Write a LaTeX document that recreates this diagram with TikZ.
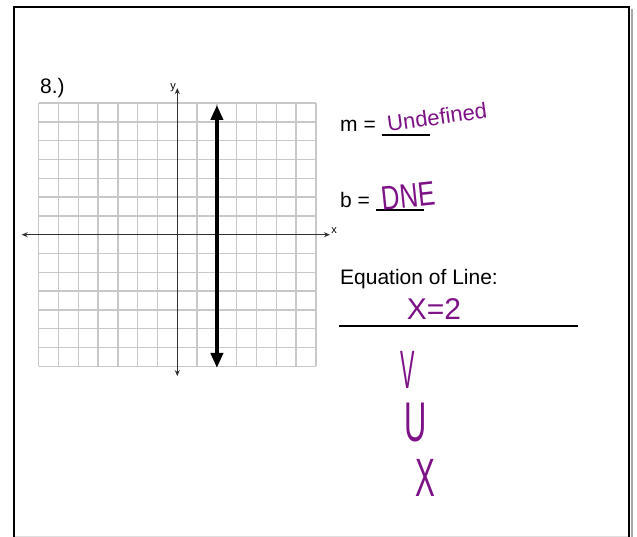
\documentclass[tikz,border=0pt]{standalone}
\usepackage{fontspec}
\setmainfont{Liberation Sans}
\usetikzlibrary{arrows.meta}
\definecolor{ink}{RGB}{125,18,135}
\definecolor{gridgray}{RGB}{200,200,200}
\definecolor{axisgray}{RGB}{50,50,50}

\begin{document}
\begin{tikzpicture}[x=1pt, y=-1pt, >={Stealth[length=6pt,width=5pt]}]
    % 画像と同じ大きさ (637 x 537)
    \useasboundingbox (0,0) rectangle (637,537);

    % 手書き文字のスタイル
    \tikzset{
        hand/.style={text=ink, inner sep=0pt},
        printed/.style={font=\fontsize{21}{21}\selectfont, inner sep=0pt, anchor=base west}
    }

    % 枠 (右に影)
    \draw[gray!70, line width=2pt] (631.5,9) -- (631.5,537);
    \draw[black, line width=2pt] (14,545) -- (14,7) -- (629,7) -- (629,545);
    \draw[gray!25, line width=1pt] (15,536) -- (628,536);

    % -------------------------------------------------------------
    % 方眼と座標軸 (原点 = y軸と x軸の交点)
    % -------------------------------------------------------------
    \begin{scope}[shift={(177.3,234.7)}, x=19.8pt, y=18.8pt]
        % 方眼 14 x 14
        \foreach \i in {-7,...,7} {
            \draw[gridgray, line width=1.3pt] (\i,-7) -- (\i,7);
            \draw[gridgray, line width=1.3pt] (-7,\i) -- (7,\i);
        }

        % 軸の描画
        \draw[<->, axisgray, line width=1pt] (-7.86,0) -- (7.71,0)
            node[above right, inner sep=1pt, font=\fontsize{11}{11}\selectfont, black] (xlab) {x};
        \draw[<->, axisgray, line width=1pt] (0,-7.52) -- (0,7.8)
            node[left, inner sep=1pt, font=\fontsize{11}{11}\selectfont, black] (ylab) {y};

        % 直線 x = 2
        \draw[{Triangle[width=12pt,length=15pt]}-{Triangle[width=12pt,length=15pt]}, line width=4pt]
            (2,-7.09) -- (2,6.9);
    \end{scope}

    % 問題番号
    \node[printed] (num) at (40,94) {8.)};

    % -------------------------------------------------------------
    % 右側の印刷文字と下線
    % -------------------------------------------------------------
    \node[printed] (m) at (340,131.5) {m =};
    \draw[line width=1.3pt] (381.7,135) -- (430,135);

    \node[printed] (b) at (340,208) {b =};
    \draw[line width=1.3pt] (375.7,210) -- (424,210);

    \node[printed] (eq) at (340,284) {Equation of Line:};
    \draw[line width=1.3pt] (339,326) -- (578,326);

    % -------------------------------------------------------------
    % 手書きの答え
    % -------------------------------------------------------------
    \node[hand, rotate=8, font=\fontsize{22}{22}\selectfont] (slope) at (437,117) {Undefined};
    \node[hand, rotate=6, font=\fontsize{34}{34}\selectfont] (icept) at (408,196) {\scalebox{0.75}[1]{DNE}};
    \node[hand, font=\fontsize{30}{30}\selectfont] (line) at (434,309) {X=2};

    % 縦に V, U, X
    \node[hand, font=\fontsize{54}{54}\selectfont] (v) at (408,370) {\scalebox{0.4}[1]{V}};
    \node[hand, font=\fontsize{56}{56}\selectfont] (u) at (416,423) {\scalebox{0.55}[1]{U}};
    \node[hand, font=\fontsize{54}{54}\selectfont] (x) at (425,478) {\scalebox{0.55}[1]{X}};

\end{tikzpicture}
\end{document}
